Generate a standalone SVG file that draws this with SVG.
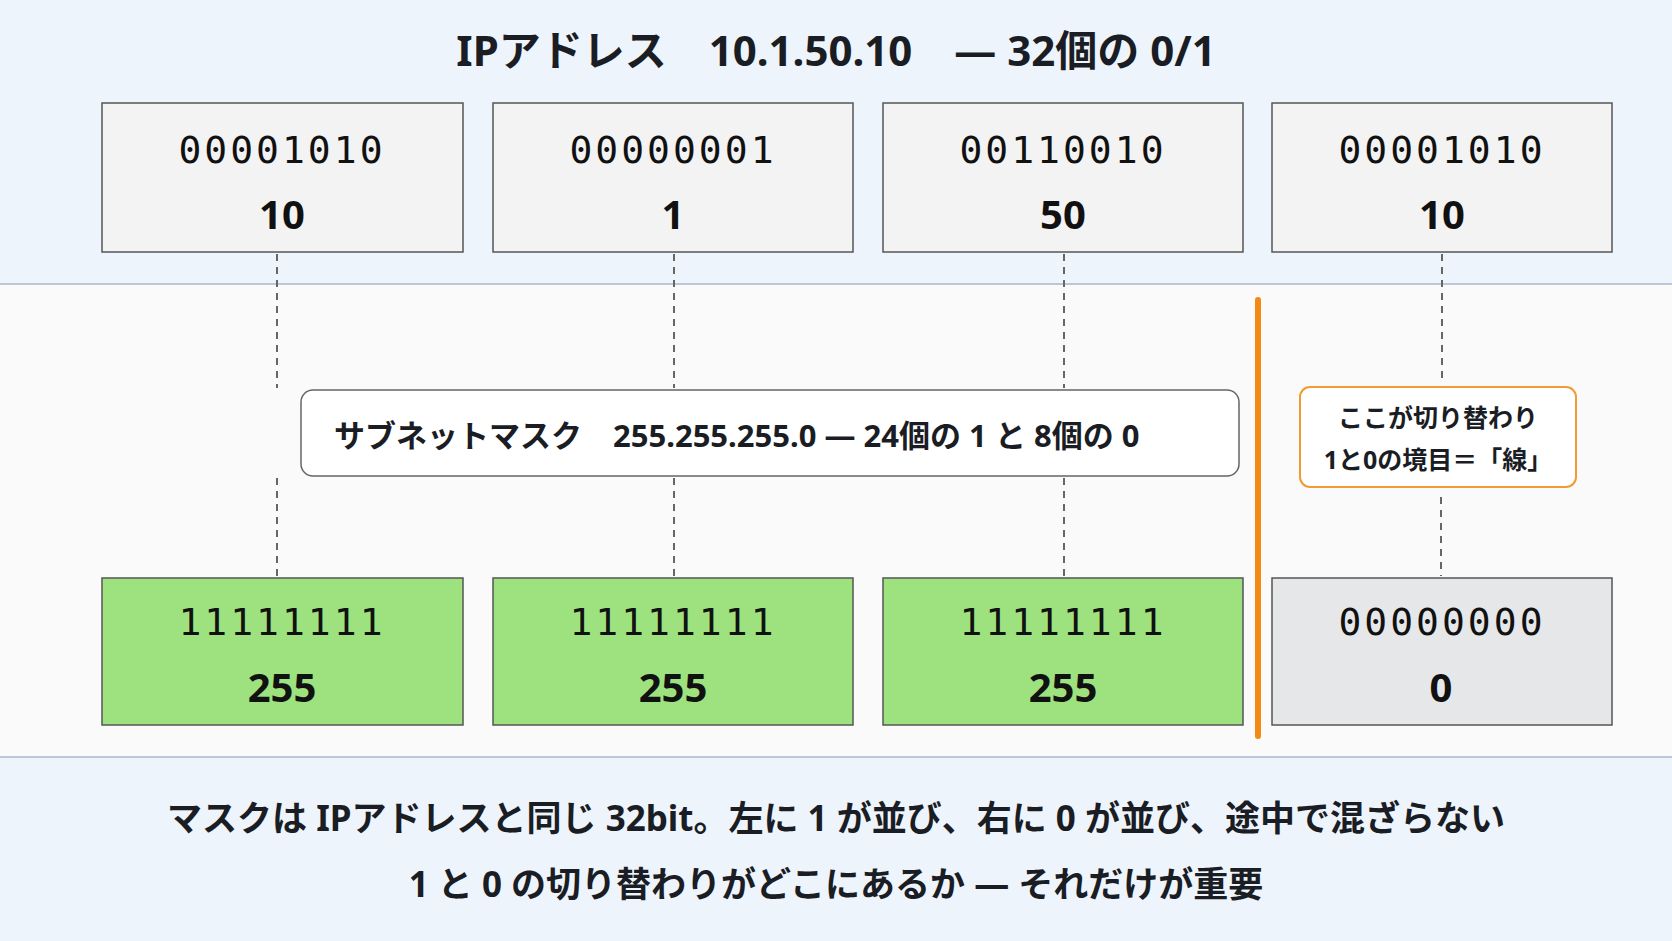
<svg xmlns="http://www.w3.org/2000/svg" width="1672" height="941" viewBox="0 0 1672 941">
<style>
.band{fill:#eef4fb;stroke:#a9b8cb;stroke-width:1.5}
.box{fill:#f3f3f3;stroke:#555;stroke-width:1.5}
.green{fill:#9de27e;stroke:#555;stroke-width:1.5}
.grey{fill:#e6e7e9;stroke:#555;stroke-width:1.5}
.bin{font-family:"DejaVu Sans Mono",monospace;font-size:38px;fill:#111;text-anchor:middle;letter-spacing:3px}
.dec{font-family:"Noto Sans","Noto Sans CJK JP",sans-serif;font-weight:700;font-size:40px;fill:#111;text-anchor:middle}
.jp{font-family:"Noto Sans","Noto Sans CJK JP",sans-serif;font-weight:700;fill:#1a1d24}
.dash{stroke:#666;stroke-width:2;stroke-dasharray:7 6;fill:none}
</style>
<rect width="1672" height="941" fill="#fafafa"/>
<rect id="top-band" class="band" x="-1" y="-1" width="1674" height="285"/>
<text class="jp" x="836" y="66" font-size="42" text-anchor="middle">IPアドレス　10.1.50.10　― 32個の 0/1</text>
<g id="connectors">
<line class="dash" x1="277" y1="254" x2="277" y2="388"/>
<line class="dash" x1="277" y1="478" x2="277" y2="576"/>
<line class="dash" x1="674" y1="254" x2="674" y2="388"/>
<line class="dash" x1="674" y1="478" x2="674" y2="576"/>
<line class="dash" x1="1064" y1="254" x2="1064" y2="388"/>
<line class="dash" x1="1064" y1="478" x2="1064" y2="576"/>
<line class="dash" x1="1442" y1="254" x2="1442" y2="378"/>
<line class="dash" x1="1441" y1="497" x2="1441" y2="576"/>
<line x1="1258" y1="300" x2="1258" y2="736" stroke="#f28a13" stroke-width="6" stroke-linecap="round"/>
</g>
<g id="ip1"><rect class="box" x="102" y="103" width="361" height="149"/><text class="bin" x="282" y="163">00001010</text><text class="dec" x="282" y="229">10</text></g>
<g id="ip2"><rect class="box" x="493" y="103" width="360" height="149"/><text class="bin" x="673" y="163">00000001</text><text class="dec" x="673" y="229">1</text></g>
<g id="ip3"><rect class="box" x="883" y="103" width="360" height="149"/><text class="bin" x="1063" y="163">00110010</text><text class="dec" x="1063" y="229">50</text></g>
<g id="ip4"><rect class="box" x="1272" y="103" width="340" height="149"/><text class="bin" x="1442" y="163">00001010</text><text class="dec" x="1442" y="229">10</text></g>
<g id="mask-label"><rect x="301" y="390" width="938" height="86" rx="12" fill="#fff" stroke="#666" stroke-width="1.5"/><text class="jp" x="334" y="447" font-size="31">サブネットマスク　255.255.255.0 ― 24個の 1 と 8個の 0</text></g>
<g id="callout"><rect x="1300" y="387" width="276" height="100" rx="10" fill="#fff" stroke="#f29a33" stroke-width="2"/><text class="jp" x="1438" y="427" font-size="25" font-weight="500" text-anchor="middle">ここが切り替わり</text><text class="jp" x="1438" y="469" font-size="25" font-weight="500" text-anchor="middle">1と0の境目＝「線」</text></g>
<g id="m1"><rect class="green" x="102" y="578" width="361" height="147"/><text class="bin" x="282" y="635">11111111</text><text class="dec" x="282" y="702">255</text></g>
<g id="m2"><rect class="green" x="493" y="578" width="360" height="147"/><text class="bin" x="673" y="635">11111111</text><text class="dec" x="673" y="702">255</text></g>
<g id="m3"><rect class="green" x="883" y="578" width="360" height="147"/><text class="bin" x="1063" y="635">11111111</text><text class="dec" x="1063" y="702">255</text></g>
<g id="m4"><rect class="grey" x="1272" y="578" width="340" height="147"/><text class="bin" x="1442" y="635">00000000</text><text class="dec" x="1441" y="702">0</text></g>
<rect id="bottom-band" class="band" x="-1" y="757" width="1674" height="185"/>
<text class="jp" x="836" y="831" font-size="35" text-anchor="middle">マスクは IPアドレスと同じ 32bit。左に 1 が並び、右に 0 が並び、途中で混ざらない</text>
<text class="jp" x="836" y="897" font-size="35" text-anchor="middle">1 と 0 の切り替わりがどこにあるか ― それだけが重要</text>
</svg>
